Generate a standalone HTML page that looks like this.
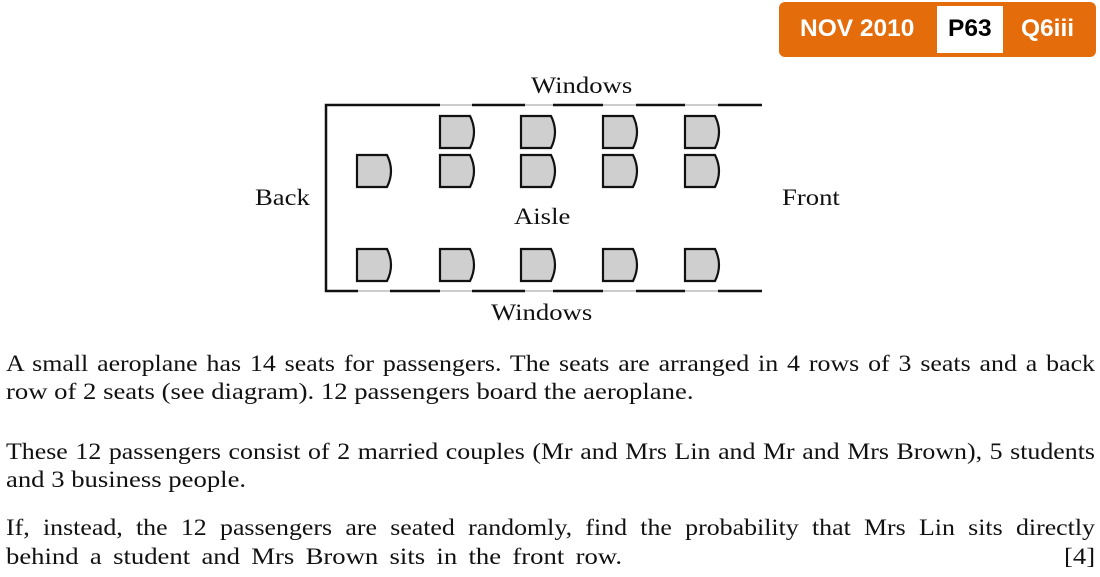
<!DOCTYPE html>
<html><head><meta charset="utf-8"><style>
body{margin:0;width:1100px;height:577px;background:#fff;position:relative;overflow:hidden;font-family:"Liberation Serif",serif;color:#111}
.t{position:absolute;font-size:23px;white-space:nowrap;transform:scaleX(1.16);transform-origin:0 0}
.p{position:absolute;left:6px;width:968px;font-size:23px;line-height:30px;white-space:nowrap;text-align:justify;text-align-last:justify;transform:scaleX(1.125);transform-origin:0 0}
.badge{position:absolute;left:779px;top:2px;width:317px;height:55px;background:#e46c0a;border-radius:6px;font-family:"Liberation Sans",sans-serif;font-weight:bold;font-size:24.5px;color:#fff}
.badge span{position:absolute;top:13px}
</style></head><body>
<div class="badge"><span style="left:21px">NOV 2010</span>
<div style="position:absolute;left:158px;top:4px;width:66px;height:47px;background:#fff"></div>
<span style="left:169px;color:#000">P63</span><span style="left:242px">Q6iii</span></div>

<svg width="1100" height="577" style="position:absolute;left:0;top:0">
<defs><path id="s" d="M0,0 H30 Q38,16 30,32 H0 Z" fill="#cfcfcf" stroke="#111" stroke-width="2.2"/></defs>
<g stroke="#bbb" stroke-width="1.5"><line x1="326" y1="105" x2="762" y2="105"/><line x1="326" y1="291" x2="762" y2="291"/></g>
<g stroke="#111" stroke-width="2.5" fill="none">
<path d="M440,105 H326 V291 H358"/>
<line x1="472" y1="105" x2="525" y2="105"/><line x1="553" y1="105" x2="603" y2="105"/><line x1="636" y1="105" x2="685" y2="105"/><line x1="718" y1="105" x2="762" y2="105"/>
<line x1="390" y1="291" x2="440" y2="291"/><line x1="472" y1="291" x2="525" y2="291"/><line x1="553" y1="291" x2="603" y2="291"/><line x1="636" y1="291" x2="685" y2="291"/><line x1="718" y1="291" x2="762" y2="291"/>
</g>
<use href="#s" x="440" y="116"/><use href="#s" x="521" y="116"/><use href="#s" x="603" y="116"/><use href="#s" x="685" y="116"/>
<use href="#s" x="357" y="155"/><use href="#s" x="440" y="155"/><use href="#s" x="521" y="155"/><use href="#s" x="603" y="155"/><use href="#s" x="685" y="155"/>
<use href="#s" x="357" y="249"/><use href="#s" x="440" y="249"/><use href="#s" x="521" y="249"/><use href="#s" x="603" y="249"/><use href="#s" x="685" y="249"/>
</svg>
<div class="t" style="left:531px;top:73px">Windows</div>
<div class="t" style="left:255px;top:185px">Back</div>
<div class="t" style="left:782px;top:185px">Front</div>
<div class="t" style="left:514px;top:204px">Aisle</div>
<div class="t" style="left:491px;top:300px">Windows</div>

<div class="p" style="top:349px">A small aeroplane has 14 seats for passengers. The seats are arranged in 4 rows of 3 seats and a back</div>
<div class="t" style="left:6px;top:379px">row of 2 seats (see diagram). 12 passengers board the aeroplane.</div>
<div class="p" style="top:437px">These 12 passengers consist of 2 married couples (Mr and Mrs Lin and Mr and Mrs Brown), 5 students</div>
<div class="t" style="left:6px;top:467px">and 3 business people.</div>
<div class="p" style="top:513px">If, instead, the 12 passengers are seated randomly, find the probability that Mrs Lin sits directly</div>
<div class="t" style="left:6px;top:544px;word-spacing:4px">behind a student and Mrs Brown sits in the front row.</div>
<div class="t" style="left:1064px;top:544px">[4]</div>
</body></html>
